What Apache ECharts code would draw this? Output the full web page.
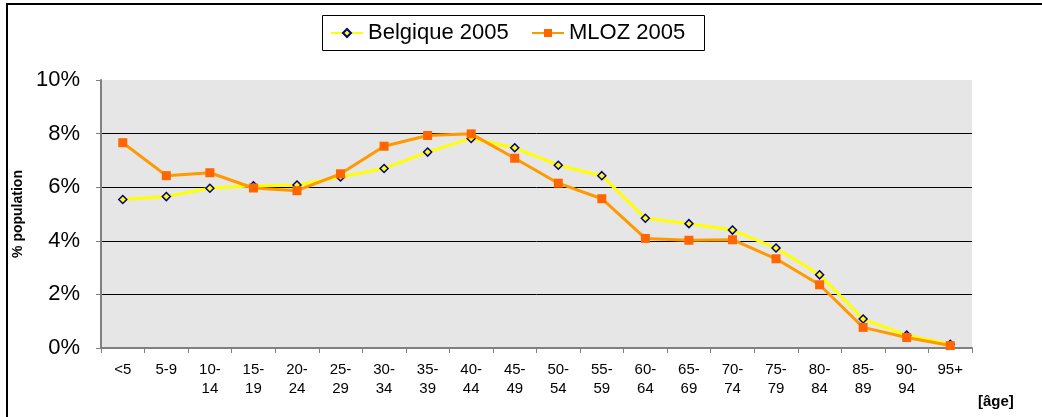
<!DOCTYPE html>
<html>
<head>
<meta charset="utf-8">
<script src="https://cdn.jsdelivr.net/npm/echarts@6/dist/echarts.min.js"></script>
<style>html,body{margin:0;padding:0;background:#fff;}#c{width:1042px;height:417px;}</style>
</head>
<body>
<div id="c"></div>
<script>
var categories = ['<5','5-9','10-\n14','15-\n19','20-\n24','25-\n29','30-\n34','35-\n39','40-\n44','45-\n49','50-\n54','55-\n59','60-\n64','65-\n69','70-\n74','75-\n79','80-\n84','85-\n89','90-\n94','95+'];
var belgique = [5.54, 5.65, 5.96, 6.05, 6.08, 6.38, 6.70, 7.31, 7.82, 7.47, 6.82, 6.43, 4.84, 4.64, 4.40, 3.73, 2.73, 1.08, 0.48, 0.14];
var mloz = [7.66, 6.43, 6.54, 5.97, 5.87, 6.50, 7.53, 7.93, 7.99, 7.08, 6.15, 5.57, 4.09, 4.02, 4.04, 3.33, 2.36, 0.77, 0.39, 0.09];
var yTicks = [0, 2, 4, 6, 8, 10];

var FONT = 'Liberation Sans, Arial, sans-serif';
var legendCommon = {
  padding: 0, itemWidth: 32, itemHeight: 10, itemGap: 0,
  textStyle: { fontSize: 22, color: '#000', fontFamily: FONT }
};
var chart = echarts.init(document.getElementById('c'));
chart.setOption({
  animation: false,
  textStyle: { fontFamily: FONT },
  grid: { left: 101, right: 70, top: 80, bottom: 69, show: true, backgroundColor: '#e6e6e6', borderWidth: 0 },
  legend: [
    Object.assign({ left: 330, top: 22, data: ['Belgique 2005'] }, legendCommon),
    Object.assign({ left: 531, top: 22, data: ['MLOZ 2005'] }, legendCommon)
  ],
  xAxis: {
    type: 'category',
    data: categories,
    boundaryGap: true,
    axisLine: { lineStyle: { color: '#808080', width: 2 } },
    axisTick: { show: true, length: 5, lineStyle: { color: '#808080', width: 1 } },
    axisLabel: { color: '#000', fontSize: 15, lineHeight: 19, margin: 12, interval: 0, fontFamily: FONT },
    splitLine: { show: false }
  },
  yAxis: {
    type: 'value',
    min: yTicks[0], max: yTicks[yTicks.length - 1], interval: 2,
    name: '% population', nameLocation: 'middle', nameRotate: 90, nameGap: 76,
    nameTextStyle: { fontSize: 14, fontWeight: 'bold', color: '#000', fontFamily: FONT },
    axisLine: { show: true, lineStyle: { color: '#808080', width: 2 } },
    axisTick: { show: true, length: 5, lineStyle: { color: '#808080', width: 1 } },
    axisLabel: { color: '#000', fontSize: 22, margin: 21, fontFamily: FONT, formatter: function (v) { return v + '%'; } },
    splitLine: { show: true, showMinLine: false, showMaxLine: false, lineStyle: { color: '#000', width: 1 } }
  },
  graphic: [
    { type: 'rect', shape: { x: 7, y: 4, width: 1100, height: 500 }, style: { fill: 'none', stroke: '#000', lineWidth: 2 }, silent: true, z: 100 },
    { type: 'rect', shape: { x: 322.5, y: 15.5, width: 382, height: 35 }, style: { fill: 'none', stroke: '#000', lineWidth: 1 }, silent: true, z: 100 },
    { type: 'text', left: 978, top: 394, style: { text: '[âge]', font: 'bold 15px ' + FONT, fill: '#000' } }
  ],
  series: [
    {
      name: 'Belgique 2005', type: 'line', data: belgique,
      symbol: 'diamond', symbolSize: 8,
      lineStyle: { color: '#ffff00', width: 3 },
      itemStyle: { color: '#ffff00', borderColor: '#000080', borderWidth: 1.5 },
      z: 2
    },
    {
      name: 'MLOZ 2005', type: 'line', data: mloz,
      symbol: 'rect', symbolSize: 9,
      lineStyle: { color: '#ff9900', width: 3 },
      itemStyle: { color: '#ff6600', borderWidth: 0 },
      z: 3
    }
  ]
});
</script>
</body>
</html>
